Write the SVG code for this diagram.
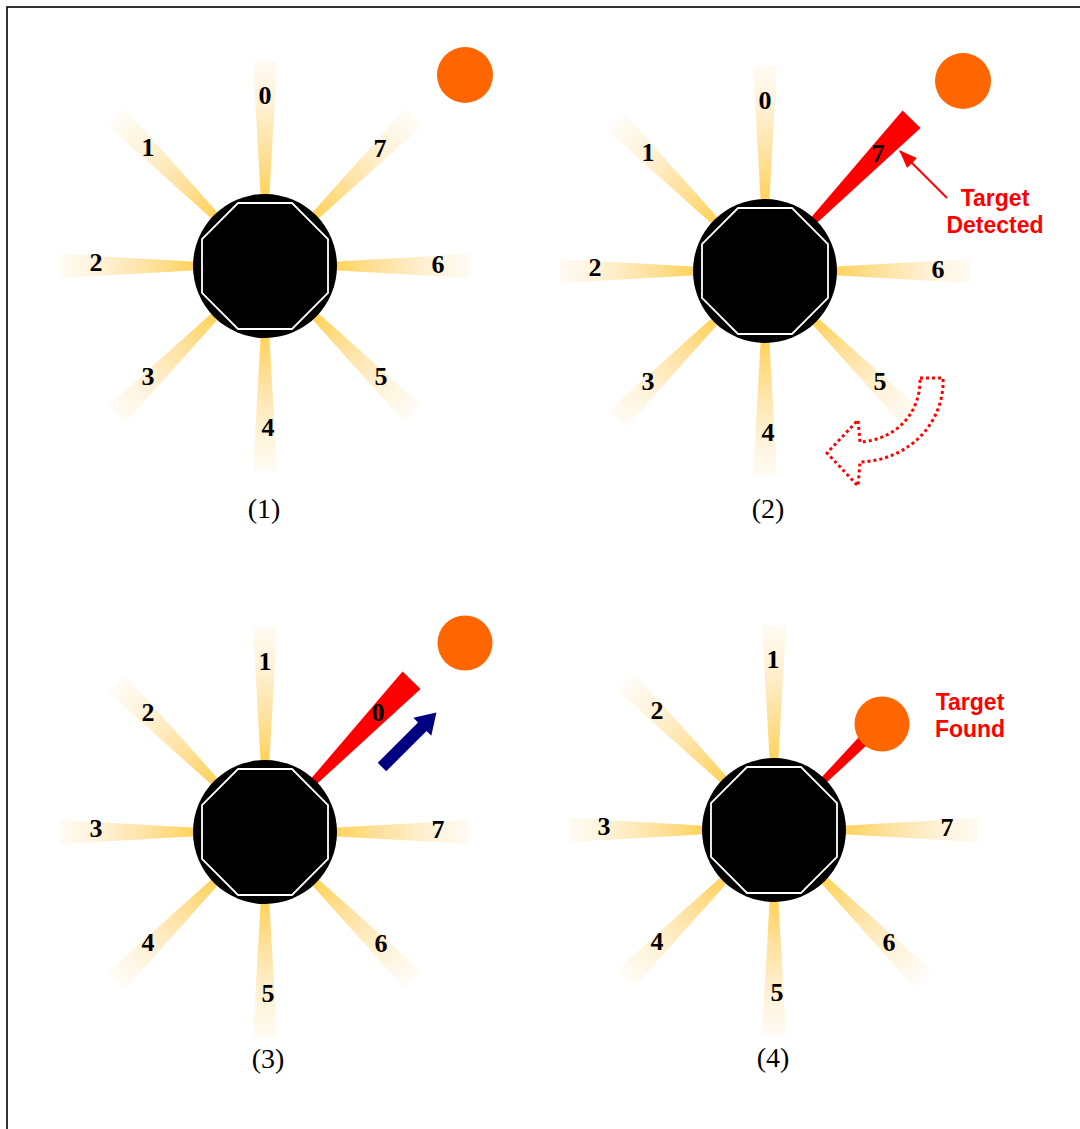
<svg xmlns="http://www.w3.org/2000/svg" width="1080" height="1129" viewBox="0 0 1080 1129">
<defs>
<linearGradient id="bg" gradientUnits="userSpaceOnUse" x1="0" y1="-68" x2="0" y2="-208">
<stop offset="0" stop-color="#FFD257"/>
<stop offset="0.35" stop-color="#FFE2A0"/>
<stop offset="0.7" stop-color="#FFF2D8"/>
<stop offset="1" stop-color="#FFFCF6"/>
</linearGradient>
<polygon id="beam" points="-3.5,-55 3.5,-55 12,-205 -12,-205" fill="url(#bg)"/>
<polygon id="beamd" points="-3.5,-55 3.5,-55 12,-210 -12,-210" fill="url(#bg)"/>
<polygon id="redbeam" points="-3,-55 3,-55 12.5,-211 -12.5,-211" fill="#FF0000"/>
<g id="body">
<circle r="72" fill="#000"/>
<polygon points="-27,-63 27,-63 63,-27 63,27 27,63 -27,63 -63,27 -63,-27" fill="#000" stroke="#fff" stroke-width="1.8"/>
</g>
<marker id="ahr" viewBox="0 0 18 14" refX="17" refY="7" markerWidth="18" markerHeight="14" markerUnits="userSpaceOnUse" orient="auto">
<path d="M0,0 L18,7 L0,14 z" fill="#FF0000"/>
</marker>
</defs>
<style>
.lb{font-family:"Liberation Serif","Times New Roman",serif;font-weight:bold;font-size:26px;fill:#000;text-anchor:middle}
.cap{font-family:"Liberation Serif","Times New Roman",serif;font-size:28px;fill:#000;text-anchor:middle}
.rt{font-family:"Liberation Sans",Arial,sans-serif;font-weight:bold;font-size:23px;fill:#FF0000;text-anchor:middle}
.tgt{fill:#FF6600}
</style>
<rect width="1080" height="1129" fill="#fff"/>
<rect x="7" y="7" width="1200" height="1200" fill="none" stroke="#000" stroke-width="1.6"/>

<!-- Panel 1 -->
<g id="panel1" transform="translate(265,266)">
<use href="#beam"/>
<use href="#beamd" transform="rotate(-45)"/>
<use href="#beam" transform="rotate(-90)"/>
<use href="#beamd" transform="rotate(-135)"/>
<use href="#beam" transform="rotate(180)"/>
<use href="#beamd" transform="rotate(135)"/>
<use href="#beam" transform="rotate(90)"/>
<use href="#beamd" transform="rotate(45)"/>
<use href="#body"/>
<text class="lb" x="0" y="-162">0</text>
<text class="lb" x="-117" y="-110">1</text>
<text class="lb" x="-169" y="5">2</text>
<text class="lb" x="-117" y="119">3</text>
<text class="lb" x="3" y="170">4</text>
<text class="lb" x="116" y="119">5</text>
<text class="lb" x="173" y="7">6</text>
<text class="lb" x="115" y="-109">7</text>
</g>
<circle id="target1" class="tgt" cx="465" cy="75" r="28"/>
<text class="cap" x="264" y="518">(1)</text>

<!-- Panel 2 -->
<g id="panel2" transform="translate(765,271)">
<use href="#beam"/>
<use href="#beamd" transform="rotate(-45)"/>
<use href="#beam" transform="rotate(-90)"/>
<use href="#beamd" transform="rotate(-135)"/>
<use href="#beam" transform="rotate(180)"/>
<use href="#beamd" transform="rotate(135)"/>
<use href="#beam" transform="rotate(90)"/>
<use href="#redbeam" transform="rotate(44)"/>
<use href="#body"/>
<text class="lb" x="0" y="-162">0</text>
<text class="lb" x="-117" y="-110">1</text>
<text class="lb" x="-170" y="5">2</text>
<text class="lb" x="-117" y="119">3</text>
<text class="lb" x="3" y="170">4</text>
<text class="lb" x="115" y="119">5</text>
<text class="lb" x="173" y="7">6</text>
<text class="lb" x="113" y="-109" font-weight="normal">7</text>
</g>
<circle id="target2" class="tgt" cx="963" cy="81" r="28"/>
<g id="label-detected">
<text class="rt" x="995" y="206">Target</text>
<text class="rt" x="995" y="233">Detected</text>
</g>
<text class="cap" x="768" y="518">(2)</text>

<!-- Panel 3 -->
<g id="panel3" transform="translate(265,832)">
<use href="#beam"/>
<use href="#beamd" transform="rotate(-45)"/>
<use href="#beam" transform="rotate(-90)"/>
<use href="#beamd" transform="rotate(-135)"/>
<use href="#beam" transform="rotate(180)"/>
<use href="#beamd" transform="rotate(135)"/>
<use href="#beam" transform="rotate(90)"/>
<use href="#redbeam" transform="rotate(44)"/>
<use href="#body"/>
<text class="lb" x="0" y="-162">1</text>
<text class="lb" x="-117" y="-111">2</text>
<text class="lb" x="-169" y="5">3</text>
<text class="lb" x="-117" y="119">4</text>
<text class="lb" x="3" y="170">5</text>
<text class="lb" x="116" y="120">6</text>
<text class="lb" x="173" y="6">7</text>
<text class="lb" x="113" y="-111">0</text>
</g>
<circle id="target3" class="tgt" cx="465" cy="643" r="27.5"/>
<text class="cap" x="268" y="1068">(3)</text>

<!-- Panel 4 -->
<g id="panel4" transform="translate(774,830)">
<use href="#beam"/>
<use href="#beamd" transform="rotate(-45)"/>
<use href="#beam" transform="rotate(-90)"/>
<use href="#beamd" transform="rotate(-135)"/>
<use href="#beam" transform="rotate(180)"/>
<use href="#beamd" transform="rotate(135)"/>
<use href="#beam" transform="rotate(90)"/>
<polygon points="-3,-55 3,-55 6,-135 -6,-135" fill="#FF0000" transform="rotate(45)"/>
<use href="#body"/>
<text class="lb" x="-1" y="-162">1</text>
<text class="lb" x="-117" y="-111">2</text>
<text class="lb" x="-170" y="5">3</text>
<text class="lb" x="-117" y="120">4</text>
<text class="lb" x="3" y="171">5</text>
<text class="lb" x="115" y="121">6</text>
<text class="lb" x="173" y="6">7</text>
</g>
<circle id="target4" class="tgt" cx="882" cy="724" r="27.5"/>
<g id="label-found">
<text class="rt" x="970" y="710">Target</text>
<text class="rt" x="970" y="737">Found</text>
</g>
<text class="cap" x="773" y="1067">(4)</text>

<!-- connectors / arrows -->
<g id="connectors">
<line x1="947" y1="198" x2="900" y2="151" stroke="#FF0000" stroke-width="2" marker-end="url(#ahr)"/>
<path d="M920,378 L943,378 C945,420 912,460 860,462 L858,486 L827,453 L858,420 L860,442 C895,440 921,414 920,378 Z" fill="none" stroke="#FF0000" stroke-width="3" stroke-dasharray="3,3"/>
<polygon transform="translate(382,767) rotate(-45)" points="0,-6 57,-6 57,-12.7 77,0 57,12.7 57,6 0,6" fill="#000080"/>
</g>
</svg>
